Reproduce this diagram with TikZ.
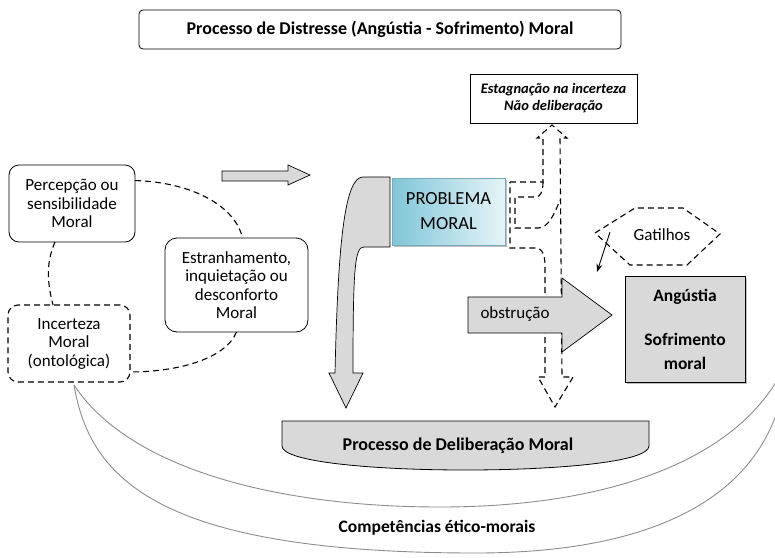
\documentclass[tikz,border=0pt]{standalone}
\usepackage{fontspec}
\setmainfont{Carlito}
\usetikzlibrary{arrows.meta,calc}
\definecolor{boxgray}{RGB}{217,217,217}
\definecolor{pmdark}{RGB}{128,198,216}
\definecolor{pmlight}{RGB}{230,244,248}
\definecolor{pmedge}{RGB}{120,170,185}
\definecolor{arcgray}{RGB}{140,140,140}
\begin{document}
\begin{tikzpicture}[x=1pt,y=-1pt,
  every node/.style={inner sep=0pt, outer sep=0pt, align=center,
    font=\fontsize{17}{18.5}\selectfont},
  rbox/.style={draw, line width=0.8pt, rounded corners=10pt, fill=white},
  dl/.style={line width=1.1pt, dash pattern=on 6pt off 4pt},
  blockarrow/.style={draw, line width=0.7pt, fill=boxgray},
  arcline/.style={draw=arcgray, line width=0.9pt},
  boldtext/.style={font=\fontsize{18}{20}\selectfont\bfseries}]
\useasboundingbox (0,0) rectangle (775,557);

% big arcs (competencias)
\coordinate (arcstart) at (74,385);
\coordinate (arcin) at (776,382);
\coordinate (arcout) at (776,415);
\draw[arcline] (arcstart) .. controls (130,470) and (280,507) .. (440,507)
   .. controls (600,507) and (725,465) .. (arcin);
\draw[arcline] (arcstart) .. controls (90,480) and (160,552) .. (470,553)
   .. controls (650,554) and (745,500) .. (arcout);

% title
\node[draw, line width=0.8pt, rounded corners=4pt, minimum width=482pt, minimum height=39pt,
  boldtext] (title) at (380,29.5) {Processo de Distresse (Angústia - Sofrimento) Moral};

% left boxes
\node[rbox, minimum width=126pt, minimum height=77pt] (perc) at (72,203.5)
  {Percepção ou\\sensibilidade\\Moral};
\node[rbox, rounded corners=12pt, minimum width=143pt, minimum height=94pt] (estr) at (236.5,285)
  {Estranhamento,\\inquietação ou\\desconforto\\Moral};
\node[rbox, dl, minimum width=122pt, minimum height=77pt] (inc) at (69,343.5)
  {Incerteza\\Moral\\(ontológica)};

\draw[dl] (perc.20) .. controls (190,182) and (235,205) .. ([xshift=6pt]estr.north);
\draw[dl] ([xshift=-17pt]perc.south) .. controls (45,265) and (48,285) .. ([xshift=-16pt]inc.north);
\draw[dl] (estr.south) .. controls (225,360) and (175,372) .. (inc.-25);

% right-pointing block arrow
\draw[blockarrow] (222,171) -- (288,171) -- (288,165) -- (310,175) -- (288,185) -- (288,181) -- (222,181) -- cycle;

% curved arrow down from problema moral
\draw[blockarrow] (390,177) -- (363,177) .. controls (345,177) and (338,240) .. (335,373)
  -- (329,373) -- (346,408) -- (363,373) -- (353,373)
  .. controls (353,265) and (355,247) .. (364,247) -- (390,247) -- cycle;

% problema moral
\fill[black!25] (394,180) rectangle (507,247);
\node[draw=pmedge, line width=0.6pt, left color=pmdark, right color=pmlight,
  minimum width=113pt, minimum height=67pt,
  font=\fontsize{18.5}{25}\selectfont] (pm) at (448.5,211.5) {PROBLEMA\\MORAL};

% estagnacao
\node[draw, line width=0.8pt, fill=white, minimum width=167pt, minimum height=49pt,
  font=\fontsize{14.5}{17}\selectfont\bfseries\itshape] (estag) at (553.5,98.5)
  {Estagnação na incerteza\\Não deliberação};

% dashed split arrow
\draw[dl] (510,182) -- (543,182) -- (543,138) -- (537,138) -- (552,125) -- (567,138)
  -- (560,138) -- (562,377) -- (573,377) -- (555,407) -- (538,377) -- (545,377) -- (545,266)
  .. controls (545,255) and (542,248) .. (536,248) -- (510,248) -- cycle;
\draw[dl] (543,182) .. controls (543,190) and (541,197) .. (536,197) -- (515,197) -- (515,228)
  -- (538,228) .. controls (548,228) and (554,215) .. (560,200);

% obstrucao arrow
\draw[blockarrow] (468,297) -- (562,297) -- (562,278) -- (612,315) -- (562,352) -- (562,333) -- (468,333) -- cycle;
\node (obst) at (515,314) {obstrução};

% gatilhos
\draw[dl] (595,233) -- (635,208) -- (683,208) -- (720,234) -- (687,265) -- (630,265) -- cycle;
\node (gat) at (662,235) {Gatilhos};
\coordinate (g1) at (610,232);
\coordinate (g2) at (597,272);
\draw[line width=0.9pt, -{Stealth[length=8pt,width=6pt]}] (g1) -- (g2);

% angustia
\fill[black!25] (626.5,277.5) rectangle (746.5,383.5);
\node[draw, line width=0.8pt, fill=boxgray, minimum width=120pt, minimum height=106pt,
  font=\fontsize{17.5}{24}\selectfont\bfseries] (ang) at (685,329)
  {Angústia\\[20pt]Sofrimento\\moral};

% deliberacao
\draw[blockarrow, line width=0.8pt] (282,421) -- (649,421) -- (649,446)
  .. controls (649,478) and (282,478) .. (282,446) -- cycle;
\node[boldtext] (delib) at (458,446) {Processo de Deliberação Moral};

% competencias
\node[boldtext, font=\fontsize{17.5}{20}\selectfont\bfseries] (comp) at (437,528) {Competências ético-morais};
\end{tikzpicture}
\end{document}
